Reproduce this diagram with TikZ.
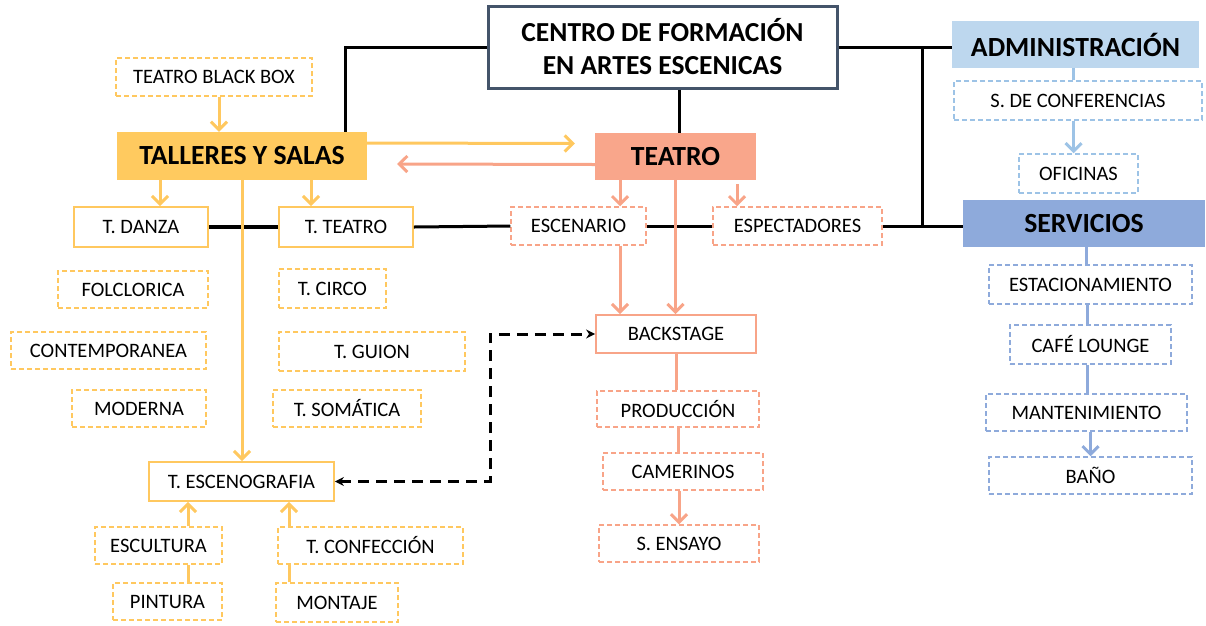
\documentclass[tikz,border=0pt]{standalone}
\usepackage{fontspec}
\setmainfont{Carlito}
\usetikzlibrary{arrows.meta}
\definecolor{ylw}{HTML}{FFC85F}
\definecolor{ylwfill}{HTML}{FFCA5F}
\definecolor{slm}{HTML}{F8A488}
\definecolor{slmfill}{HTML}{F9A68B}
\definecolor{blu}{HTML}{9DC3E6}
\definecolor{blufill}{HTML}{BDD7EE}
\definecolor{dblu}{HTML}{8EAADB}
\definecolor{slate}{HTML}{44546A}
\newcommand{\lbl}{\fontsize{20.5}{24}\selectfont}
\newcommand{\hdr}{\fontsize{27.7}{33}\selectfont\bfseries}

\begin{document}
\begin{tikzpicture}[x=1pt,y=-1pt,
    >={Straight Barb[length=8pt,width=16pt]},
    base/.style={inner sep=0pt,minimum height=38pt,font=\lbl},
    head/.style={base,minimum height=47pt,font=\hdr},
    ysolid/.style={base,draw=ylw,line width=1.8pt},
    ydash/.style={base,draw=ylw,line width=1.5pt,dash pattern=on 5pt off 3pt},
    ssolid/.style={base,draw=slm,line width=1.8pt},
    sdash/.style={base,draw=slm,line width=1.5pt,dash pattern=on 5pt off 3pt},
    bdash/.style={base,draw=blu,line width=1.5pt,dash pattern=on 5pt off 3pt},
    ddash/.style={base,draw=dblu,line width=1.5pt,dash pattern=on 5pt off 3pt},
    yl/.style={draw=ylw,line width=3pt},
    sl/.style={draw=slm,line width=3pt},
    bl/.style={draw=blu,line width=3pt},
    dl/.style={draw=dblu,line width=3pt},
    blk/.style={draw=black,line width=3pt},
    dblk/.style={draw=black,line width=3pt,dash pattern=on 11pt off 7pt,{Stealth[length=9pt,width=9pt]}-{Stealth[length=9pt,width=9pt]}}]
    \useasboundingbox (0,0) rectangle (1206,625);
    % main boxes
    \node[draw=slate,line width=3pt,minimum width=349pt,minimum height=82pt,inner sep=0pt,
        align=center,font=\fontsize{27.5}{33}\selectfont\bfseries] (centro) at (662.5,47) {CENTRO DE FORMACIÓN\\EN ARTES ESCENICAS};
    \node[head,fill=ylwfill,minimum width=250pt,minimum height=48pt] (talleres) at (242,156) {TALLERES Y SALAS};
    \node[head,fill=slmfill,minimum width=161pt] (teatro) at (675.5,156.5) {TEATRO};
    \node[head,fill=blufill,minimum width=247pt] (admin) at (1075.5,44.5) {ADMINISTRACIÓN};
    \node[head,fill=dblu,minimum width=242pt] (servicios) at (1084,223.5) {SERVICIOS};
    % talleres y salas
    \node[ydash,minimum width=196pt] (blackbox) at (214,77) {TEATRO BLACK BOX};
    \node[ysolid,minimum width=134pt,minimum height=40pt] (danza) at (141,227) {T. DANZA};
    \node[ysolid,minimum width=134pt,minimum height=40pt] (tteatro) at (346,227) {T. TEATRO};
    \node[ydash,minimum width=150pt,minimum height=37pt] (folclorica) at (133,289.5) {FOLCLORICA};
    \node[ydash,minimum width=195pt,minimum height=37pt] (contemporanea) at (108.5,350.5) {CONTEMPORANEA};
    \node[ydash,minimum width=134pt,minimum height=37pt] (moderna) at (139,408.5) {MODERNA};
    \node[ydash,minimum width=107pt,minimum height=39pt] (tcirco) at (332.5,288.5) {T. CIRCO};
    \node[ydash,minimum width=186pt,minimum height=39pt] (tguion) at (372,351.5) {T. GUION};
    \node[ydash,minimum width=148pt,minimum height=37pt] (tsomatica) at (347,408.5) {T. SOMÁTICA};
    \node[ysolid,minimum width=185pt,minimum height=39pt] (tescenografia) at (241.5,481.5) {T. ESCENOGRAFIA};
    \node[ydash,minimum width=127pt,minimum height=37pt] (escultura) at (158.5,545.5) {ESCULTURA};
    \node[ydash,minimum width=185pt,minimum height=37pt] (tconfeccion) at (370.5,545.5) {T. CONFECCIÓN};
    \node[ydash,minimum width=109pt,minimum height=37pt] (pintura) at (167.5,601.5) {PINTURA};
    \node[ydash,minimum width=122pt,minimum height=39pt] (montaje) at (337,602.5) {MONTAJE};
    % teatro
    \node[sdash,minimum width=135pt] (escenario) at (578.5,226) {ESCENARIO};
    \node[sdash,minimum width=169pt] (espectadores) at (797.5,226) {ESPECTADORES};
    \node[ssolid,minimum width=160pt] (backstage) at (676,334) {BACKSTAGE};
    \node[sdash,minimum width=162pt,minimum height=36pt] (produccion) at (678,409) {PRODUCCIÓN};
    \node[sdash,minimum width=160pt,minimum height=37pt] (camerinos) at (683,471.5) {CAMERINOS};
    \node[sdash,minimum width=160pt,minimum height=37pt] (sensayo) at (679,543.5) {S. ENSAYO};
    % administracion y servicios
    \node[bdash,minimum width=248pt,minimum height=39pt] (sconf) at (1078,100.5) {S. DE CONFERENCIAS};
    \node[bdash,minimum width=119pt,minimum height=39pt] (oficinas) at (1078.5,173.5) {OFICINAS};
    \node[ddash,minimum width=203pt,minimum height=39pt] (estacionamiento) at (1090.5,284.5) {ESTACIONAMIENTO};
    \node[ddash,minimum width=161pt,minimum height=39pt] (cafe) at (1090.5,344.5) {CAFÉ LOUNGE};
    \node[ddash,minimum width=201pt,minimum height=37pt] (mantenimiento) at (1086.5,412.5) {MANTENIMIENTO};
    \node[ddash,minimum width=203pt,minimum height=37pt] (bano) at (1090.5,475.5) {BAÑO};
    \coordinate (jn) at ([xshift=-40pt]servicios.west);
    \coordinate (tallTip) at ([xshift=-20pt,yshift=13pt]teatro.west);
    \coordinate (teaTip) at ([xshift=30pt,yshift=-8pt]talleres.east);
    \coordinate (bend) at ([xshift=-105pt]backstage.west);
    % black connectors
    \draw[blk] (centro.west) -| ([xshift=103pt]talleres.north);
    \draw[blk] ([xshift=3.5pt]teatro.north |- centro.south) -- ([xshift=3.5pt]teatro.north);
    \draw[blk] (centro.east) -- (centro.east -| admin.west);
    \draw[blk] (jn |- centro.east) -- (jn |- espectadores.east);
    \draw[blk] (espectadores.east) -- (espectadores.east -| servicios.west);
    \draw[blk,line width=4.5pt] (danza.east) -- (tteatro.west);
    \draw[blk] (tteatro.east) -- (escenario.west);
    \draw[blk] (escenario.east) -- (espectadores.west);
    \draw[dblk] (tescenografia.east) -| (bend) -- (backstage.west);
    % yellow connectors
    \draw[yl,->] ([xshift=5pt]blackbox.south) -- ([xshift=5pt]blackbox.south |- talleres.north);
    \draw[yl,->] ([xshift=-82pt]talleres.south) -- ([xshift=-82pt]talleres.south |- danza.north);
    \draw[yl,->] ([xshift=69pt]talleres.south) -- ([xshift=69pt]talleres.south |- tteatro.north);
    \draw[yl,->] (talleres.south) -- (talleres.south |- tescenografia.north);
    \draw[yl,->] ([yshift=13pt]talleres.east) -- (tallTip);
    \draw[yl,->] ([xshift=29.5pt]escultura.north) -- ([xshift=29.5pt]escultura.north |- tescenografia.south);
    \draw[yl] ([xshift=20.5pt]pintura.north) -- ([xshift=20.5pt]pintura.north |- escultura.south);
    \draw[yl,->] ([xshift=-81.5pt]tconfeccion.north) -- ([xshift=-81.5pt]tconfeccion.north |- tescenografia.south);
    \draw[yl] ([xshift=-48pt]montaje.north) -- ([xshift=-48pt]montaje.north |- tconfeccion.south);
    % salmon connectors
    \draw[sl,->] ([yshift=-8pt]teatro.west) -- (teaTip);
    \draw[sl,->] ([xshift=41.5pt]escenario.north |- teatro.south) -- ([xshift=41.5pt]escenario.north);
    \draw[sl,->] ([xshift=-60.5pt,yshift=-4pt]espectadores.north |- teatro.south) -- ([xshift=-60.5pt]espectadores.north);
    \draw[sl,->] ([xshift=41.5pt]escenario.south) -- ([xshift=41.5pt]escenario.south |- backstage.north);
    \draw[sl,->] (teatro.south) -- (teatro.south |- backstage.north);
    \draw[sl] (backstage.south) -- (backstage.south |- produccion.north);
    \draw[sl] (produccion.south) -- (produccion.south |- camerinos.north);
    \draw[sl,->] (sensayo.north |- camerinos.south) -- (sensayo.north);
    % blue connectors
    \draw[bl] ([xshift=-2.5pt]admin.south) -- ([xshift=-2.5pt]admin.south |- sconf.north);
    \draw[bl,->] ([xshift=-5pt]oficinas.north |- sconf.south) -- ([xshift=-5pt]oficinas.north);
    \draw[dl] ([xshift=2pt]servicios.south) -- ([xshift=2pt]servicios.south |- estacionamiento.north);
    \draw[dl] ([xshift=-3.5pt]cafe.north |- estacionamiento.south) -- ([xshift=-3.5pt]cafe.north);
    \draw[dl] ([xshift=-3.5pt]cafe.south) -- ([xshift=-3.5pt]cafe.south |- mantenimiento.north);
    \draw[dl,->] (bano.north |- mantenimiento.south) -- (bano.north);
\end{tikzpicture}
\end{document}
